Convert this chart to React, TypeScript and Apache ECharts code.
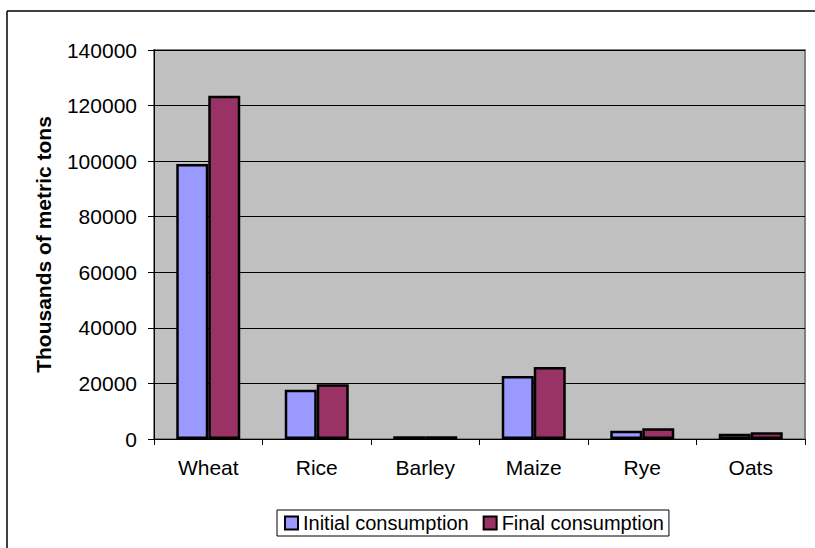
import React, { useEffect, useRef } from "react";
import * as echarts from "echarts";

const categories = ["Wheat", "Rice", "Barley", "Maize", "Rye", "Oats"];
const initialConsumption = [99000, 17700, 1000, 22700, 3000, 1900];
const finalConsumption = [123500, 19700, 1000, 25900, 3900, 2400];
const seriesNames = ["Initial consumption", "Final consumption"];
const yAxisTitle = "Thousands of metric tons";

const FONT = "'Liberation Sans', Arial, sans-serif";

export default function App() {
  const ref = useRef<HTMLDivElement>(null);
  useEffect(() => {
    if (!ref.current) return;
    const chart = echarts.init(ref.current, null, { renderer: "svg" });
    chart.setOption({
      animation: false,
      backgroundColor: "#ffffff",
      textStyle: { fontFamily: FONT, color: "#000" },
      graphic: [
        { type: "line", shape: { x1: 7, y1: 11, x2: 815, y2: 11 }, style: { stroke: "#000", lineWidth: 1.5 } },
        { type: "line", shape: { x1: 7, y1: 11, x2: 7, y2: 548 }, style: { stroke: "#000", lineWidth: 1.5 } },
      ],
      grid: {
        left: 154,
        top: 50,
        right: 10,
        bottom: 109,
        show: true,
        backgroundColor: "#C0C0C0",
        borderColor: "#808080",
        borderWidth: 2,
      },
      legend: {
        left: 277,
        top: 510,
        padding: [3, 5, 3, 7],
        borderColor: "#000",
        borderWidth: 1,
        backgroundColor: "#fff",
        icon: "rect",
        itemWidth: 13,
        itemHeight: 13,
        itemGap: 14,
        itemStyle: { borderColor: "#000", borderWidth: 2 },
        textStyle: { fontFamily: FONT, fontSize: 20, color: "#000" },
        data: seriesNames,
      },
      xAxis: {
        type: "category",
        data: categories,
        axisLine: { lineStyle: { color: "#000", width: 1 } },
        axisTick: { show: true, length: 6, lineStyle: { color: "#000" } },
        axisLabel: { fontFamily: FONT, fontSize: 21, color: "#000", margin: 18 },
        splitLine: { show: false },
      },
      yAxis: {
        type: "value",
        min: 0,
        max: 140000,
        interval: 20000,
        name: yAxisTitle,
        nameLocation: "middle",
        nameRotate: 90,
        nameGap: 100,
        nameTextStyle: { fontFamily: FONT, fontSize: 21, fontWeight: "bold", color: "#000" },
        axisLine: { show: true, lineStyle: { color: "#000", width: 1 } },
        axisTick: { show: true, length: 6, lineStyle: { color: "#000" } },
        axisLabel: {
          fontFamily: FONT,
          fontSize: 21,
          color: "#000",
          margin: 17,
          formatter: (v: number) => String(v),
        },
        splitLine: { show: true, lineStyle: { color: "#000", width: 1 } },
      },
      series: [
        {
          name: seriesNames[0],
          type: "bar",
          data: initialConsumption,
          barWidth: 32,
          barGap: "0%",
          itemStyle: { color: "#9999FF", borderColor: "#000", borderWidth: 2.5 },
        },
        {
          name: seriesNames[1],
          type: "bar",
          data: finalConsumption,
          barWidth: 32,
          barGap: "0%",
          itemStyle: { color: "#993366", borderColor: "#000", borderWidth: 2.5 },
        },
      ],
    });
    return () => chart.dispose();
  }, []);
  return (
    <div
      ref={ref}
      style={{ position: "absolute", left: 0, top: 0, width: 815, height: 548 }}
    />
  );
}
